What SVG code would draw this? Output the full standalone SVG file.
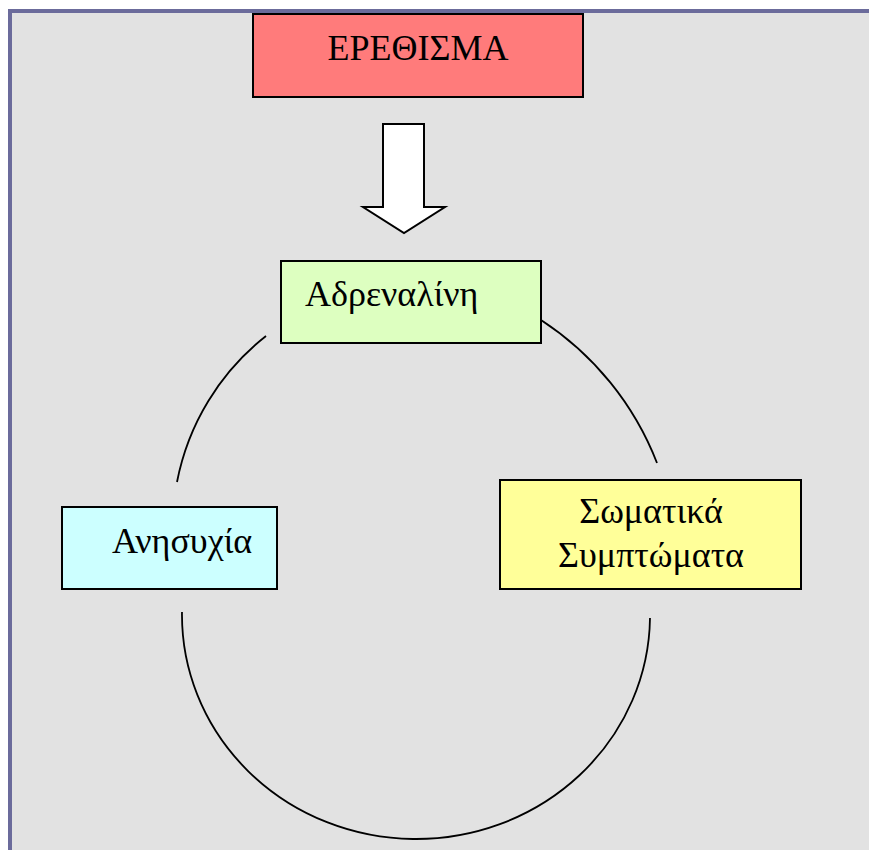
<svg xmlns="http://www.w3.org/2000/svg" width="869" height="850" viewBox="0 0 869 850">
  <style>
    .box { stroke: #000; stroke-width: 2; }
    .lbl { font-family: "Liberation Serif", "Times New Roman", serif; font-size: 36px; fill: #000; }
    .arc { fill: none; stroke: #000; stroke-width: 1.8; }
  </style>
  <rect x="0" y="0" width="869" height="850" fill="#ffffff"/>
  <rect x="8" y="9" width="861" height="841" fill="#6b6b9b"/>
  <rect x="12" y="13" width="857" height="837" fill="#e2e2e2"/>

  <g id="connectors">
    <path id="arrow-big" d="M383,124 H424 V207 H445 L404,233 L363,207 H383 Z" fill="#ffffff" stroke="#000" stroke-width="2" stroke-linejoin="miter"/>
    <path class="arc" d="M266,336 A245,245 0 0 0 177,482"/>
    <path class="arc" d="M541,320 A300,300 0 0 1 657,463"/>
    <path class="arc" d="M182,612 A234,224 0 0 0 650,618"/>
  </g>

  <g id="node-erethisma">
    <rect class="box" x="253" y="14" width="330" height="83" fill="#ff7b7b"/>
    <text class="lbl" x="418" y="60" text-anchor="middle">ΕΡΕΘΙΣΜΑ</text>
  </g>
  <g id="node-adrenalini">
    <rect class="box" x="281" y="261" width="260" height="82" fill="#ddffc0"/>
    <text class="lbl" x="305" y="306">Αδρεναλίνη</text>
  </g>
  <g id="node-anisychia">
    <rect class="box" x="62" y="507" width="215" height="82" fill="#ccffff"/>
    <text class="lbl" x="112" y="553">Ανησυχία</text>
  </g>
  <g id="node-somatika">
    <rect class="box" x="500" y="480" width="301" height="109" fill="#ffff99"/>
    <text class="lbl" x="651" y="523" text-anchor="middle">Σωματικά</text>
    <text class="lbl" x="651" y="567" text-anchor="middle">Συμπτώματα</text>
  </g>
</svg>
